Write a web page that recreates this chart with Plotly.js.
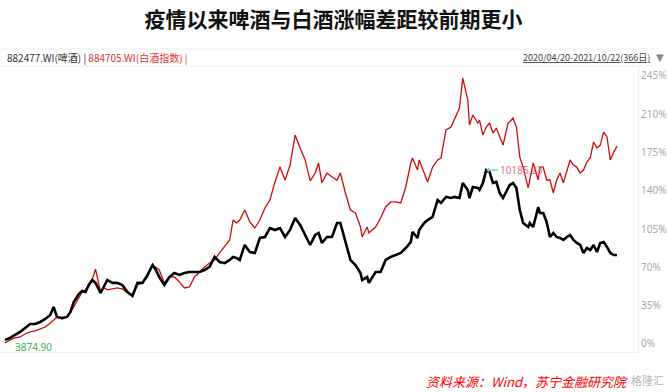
<!DOCTYPE html>
<html>
<head>
<meta charset="utf-8">
<script src="https://cdn.plot.ly/plotly-3.0.1.min.js"></script>
<style>html,body{margin:0;padding:0;background:#fff;}#chart{width:667px;height:392px;}</style>
</head>
<body>
<div id="chart"></div>
<script>
// trading-day index (0 = 2020/04/20, 365 = 2021/10/22)
const days = [
  0,3,6,9,12,15,18,21,24,27,
  29,31,34,37,39,41,44,46,48,50,
  52,54,57,59,61,64,67,70,73,76,
  79,82,85,88,90,92,95,98,101,104,
  107,110,113,116,119,122,125,128,131,134,
  136,138,140,143,146,149,152,155,158,161,
  164,167,170,173,176,179,182,185,187,189,
  192,195,198,200,203,206,209,212,213,216,
  217,221,224,227,230,233,236,239,242,243,
  246,247,250,252,255,258,260,263,266,268,
  271,273,276,277,279,282,283,285,287,289,
  291,293,295,297,300,301,303,305,307,309,
  312,313,315,318,319,321,323,325,327,329,
  331,333,335,337,339,341,343,345,347,349,
  351,353,355,357,359,361,363,365
];
// 882477.WI 啤酒 — cumulative change (%)
const beer = [
  3.7,5.5,8.2,11.0,14.6,18.3,18.3,20.1,22.9,26.5,
  33.8,24.7,23.8,24.7,29.3,38.4,45.7,48.5,47.5,53.9,
  58.5,55.8,46.6,53.0,58.5,55.8,55.8,53.9,47.5,43.9,
  55.8,55.8,63.1,72.2,67.6,61.2,53.9,61.2,64.9,63.1,
  64.9,65.8,65.8,65.8,67.6,70.4,79.5,74.9,74.0,76.8,
  79.5,78.6,76.8,90.5,84.1,83.2,96.9,97.8,106.0,104.2,
  106.0,97.8,104.2,115.2,108.8,99.6,90.5,99.6,101.5,92.3,
  97.8,97.8,110.6,110.6,92.3,76.8,72.2,64.9,58.5,61.2,
  55.8,65.8,65.8,76.8,79.5,81.3,83.2,87.7,93.2,102.4,
  96.9,104.2,110.6,113.3,116.1,131.6,128.9,134.4,133.4,134.4,
  133.4,147.2,140.8,133.4,143.5,142.6,140.8,147.2,159.0,157.2,
  147.2,148.1,138.0,133.4,143.5,145.3,147.2,142.6,122.5,110.6,
  106.9,110.6,106.9,125.2,119.7,119.7,111.5,97.8,101.5,97.8,
  96.9,95.1,97.8,99.6,95.1,92.3,90.5,83.2,87.7,85.9,
  90.5,84.1,92.3,93.2,88.7,83.2,81.3,81.3
];
// 884705.WI 白酒指数 — cumulative change (%)
const baijiu = [
  0.9,3.7,5.5,6.4,9.1,11.0,11.9,13.7,15.5,19.2,
  21.9,24.7,22.8,24.7,28.3,33.8,42.0,47.5,49.4,53.9,
  58.5,68.5,47.5,51.2,49.4,50.3,51.2,50.3,46.6,44.8,
  53.9,55.8,61.2,72.2,69.5,67.6,55.8,61.2,61.2,56.7,
  51.2,52.1,61.2,65.8,70.4,74.0,76.8,83.2,88.7,95.1,
  113.3,110.6,113.3,122.5,111.5,106.0,113.3,124.3,131.6,148.1,
  161.7,149.9,163.6,191.0,179.1,168.2,149.0,156.3,165.4,147.2,
  156.3,152.6,149.9,156.3,138.0,122.5,119.7,106.9,97.8,106.9,
  101.5,106.9,115.2,125.2,129.8,129.8,128.9,143.5,165.4,170.0,
  159.0,168.2,156.3,148.1,161.7,168.2,170.0,195.6,198.3,204.7,
  215.7,243.1,223.0,200.1,209.3,202.0,204.7,191.0,198.3,202.0,
  192.8,197.4,189.2,181.8,202.0,202.9,206.5,198.3,170.9,161.7,
  142.6,149.9,165.4,149.9,161.7,161.7,149.9,149.9,138.0,149.9,
  156.3,147.2,157.2,168.2,163.6,161.7,156.3,159.0,166.3,170.0,
  184.6,179.1,181.8,193.7,189.2,168.2,175.4,180.9
];
const yTicks = [0,35,70,105,140,175,210,245];
const yTickText = ['0%','35%','70%','105%','140%','175%','210%','245%'];
const titleText = '疫情以来啤酒与白酒涨幅差距较前期更小';
const beerName = '882477.WI(啤酒)';
const baijiuName = '884705.WI(白酒指数)';
const dateRange = '2020/04/20-2021/10/22(366日)';
const maxLabel = '10185.23';
const minLabel = '3874.90';
const sourceText = '资料来源：Wind，苏宁金融研究院';
const watermark = '格隆汇';

// locate max/min of beer series for labels
let iMax = 0, iMin = 0;
beer.forEach((v,i)=>{ if(v>beer[iMax]) iMax=i; if(v<beer[iMin]) iMin=i; });

const cjk = '"Noto Sans CJK SC", "Noto Sans", sans-serif';
const traces = [
  {x: days, y: baijiu, type:'scatter', mode:'lines', name: baijiuName,
   line:{color:'#d10a0a', width:1.3}, hoverinfo:'skip'},
  {x: days, y: beer, type:'scatter', mode:'lines', name: beerName,
   line:{color:'#000000', width:2.6}, hoverinfo:'skip'}
];

const layout = {
  width: 667, height: 392,
  margin: {l:0, r:29, t:66, b:40},
  paper_bgcolor:'#ffffff', plot_bgcolor:'#ffffff',
  showlegend:false,
  font:{family: cjk},
  title:{text:'<b>'+titleText+'</b>', font:{size:21, color:'#111', family:cjk},
         x:0.5, xref:'container', xanchor:'center', y:1-20/392, yref:'container', yanchor:'middle'},
  xaxis:{range:[-2.98, 377.5], showgrid:false, zeroline:false, showticklabels:false,
         showline:true, linecolor:'#eeeeee', linewidth:1, ticks:''},
  yaxis:{side:'right', range:[-7.35, 254.1], tickvals:yTicks, ticktext:yTickText,
         tickfont:{size:10, color:'#a8a8a8', family:'"Noto Sans", sans-serif'},
         showgrid:false, zeroline:false, showline:true, linecolor:'#eeeeee', linewidth:1, ticks:''},
  shapes:[
    {type:'line', xref:'paper', yref:'paper', x0:0, x1:1.03, y0:(352-49)/286, y1:(352-49)/286,
     line:{color:'#eeeeee', width:1}},
    {type:'line', xref:'paper', yref:'paper', x0:0, x1:1.03, y0:1.0, y1:1.0,
     line:{color:'#f0f0f0', width:1}}
  ],
  annotations:[
    {xref:'paper', yref:'paper', x:5/638, y:(352-57)/286, xanchor:'left', yanchor:'middle', showarrow:false,
     text: beerName+' | <span style="color:#e03434">'+baijiuName+' |</span>',
     font:{size:10, color:'#333', family:cjk}},
    {xref:'paper', yref:'paper', x:652/638, y:(352-57)/286, xanchor:'right', yanchor:'middle', showarrow:false,
     text:'<u>'+dateRange+'</u>', font:{size:9, color:'#444', family:cjk}},
    {xref:'paper', yref:'paper', x:654/638, y:(352-57)/286, xanchor:'left', yanchor:'middle', showarrow:false,
     text:'▼', font:{size:10, color:'#888', family:'DejaVu Sans'}},
    {x: days[iMax], y: beer[iMax], xref:'x', yref:'y', showarrow:true, arrowhead:1, arrowsize:0.8,
     arrowwidth:1.2, arrowcolor:'#6cc3d5', ax:12, ay:0, xanchor:'left', yanchor:'middle',
     text:maxLabel, font:{size:10, color:'#e8707a', family:'"Noto Sans", sans-serif'}},
    {x: days[iMin], y: beer[iMin], xref:'x', yref:'y', showarrow:false, xanchor:'left', yanchor:'top',
     xshift:8, yshift:2, text:minLabel, font:{size:10, color:'#4caf50', family:'"Noto Sans", sans-serif'}},
    {xref:'paper', yref:'paper', x:424/638, y:(352-381)/286, xanchor:'left', yanchor:'middle', showarrow:false,
     text:'<i>'+sourceText+'</i>', font:{size:13, color:'#ff0000', family:cjk}},
    {xref:'paper', yref:'paper', x:666/638, y:(352-380)/286, xanchor:'right', yanchor:'middle', showarrow:false,
     text:watermark, font:{size:11, color:'#b5b5b5', family:cjk}}
  ]
};

Plotly.newPlot('chart', traces, layout, {staticPlot:true, displayModeBar:false});
</script>
</body>
</html>
